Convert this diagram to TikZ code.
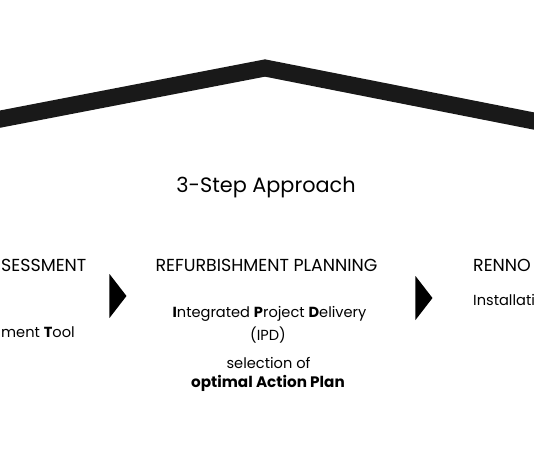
\documentclass[tikz,border=0pt]{standalone}
\usepackage{fontspec}
\setmainfont{Poppins}
\usepackage{tikz}
\usetikzlibrary{shapes.geometric,positioning,calc}

\begin{document}
\begin{tikzpicture}[
    x=1pt, y=-1pt,
    every node/.style={inner sep=0pt, align=center, font=\fontsize{14.6}{17}\selectfont},
    header/.style={font=\fontsize{17.4}{20}\selectfont},
    title/.style={font=\fontsize{20.8}{24}\selectfont},
    pointer/.style={isosceles triangle, isosceles triangle stretches, fill=black, draw=none,
                    minimum height=17pt, minimum width=44pt, inner sep=0pt},
    roof/.style={line width=17pt, line join=miter, draw=black!90}]

  \useasboundingbox (0,0) rectangle (534,462);
  \clip (0,0) rectangle (534,462);

  % roof
  \coordinate (eaveL) at (-20,123);
  \coordinate (peak) at (265,68);
  \coordinate (eaveR) at (554,125);
  \draw[roof] (eaveL) -- (peak) -- (eaveR);

  \node[title, anchor=base] (approach) at (266,193) {3-Step Approach};

  % step 1 (cut off)
  \node[header, anchor=base west] (assess) at (1,271) {SESSMENT};
  \node[anchor=base west] (assessTool) at (1,337) {ment \textbf{T}ool};

  % step 2
  \node[header, anchor=base] (planning) at (266.5,271) {REFURBISHMENT PLANNING};
  \node[anchor=base] (ipd) at (269.5,317) {\textbf{I}ntegrated \textbf{P}roject \textbf{D}elivery};
  \node[anchor=base] (ipdShort) at (268,340) {(IPD)};
  \node[anchor=base] (selection) at (268.5,368) {selection of};
  \node[anchor=base, font=\fontsize{15.2}{17}\selectfont\bfseries] (plan) at (268,387) {optimal Action Plan};

  % step 3 (cut off)
  \node[header, anchor=base west] (renno) at (473,271) {RENNO};
  \node[anchor=base west] (install) at (473,305) {Installati};

  % pointers
  \node[pointer, anchor=apex] (ptrA) at (127,296) {};
  \node[pointer, anchor=apex] (ptrB) at (433,298) {};
\end{tikzpicture}
\end{document}
